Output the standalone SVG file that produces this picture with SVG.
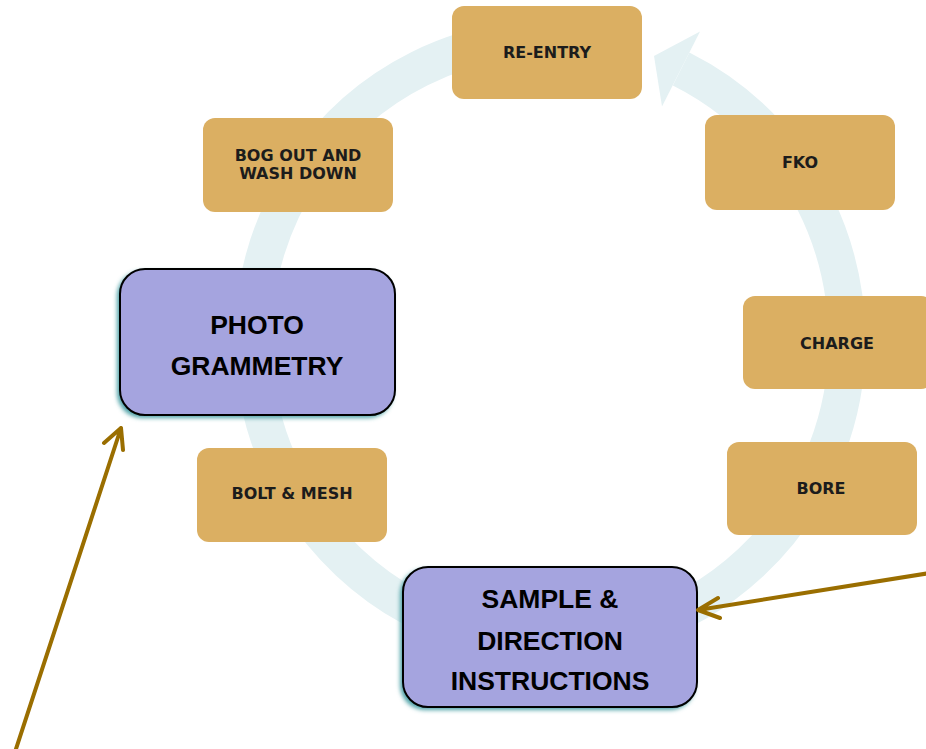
<svg xmlns="http://www.w3.org/2000/svg" width="926" height="749" viewBox="0 0 926 749">
<defs>
<style>
.ring{fill:none;stroke:#E4F1F3;stroke-width:37}
.gold{fill:#DBAF62}
.gt{font-family:"DejaVu Sans",Verdana,sans-serif;font-weight:bold;font-size:16px;fill:#1c1c1c;text-anchor:middle}
.purple{fill:#A5A4DF;stroke:#000;stroke-width:2}
.glow{fill:#4FA3A8;filter:url(#blur)}
.pt{font-family:"Liberation Sans",Arial,sans-serif;font-weight:bold;font-size:26.5px;fill:#000;text-anchor:middle}
.conn{fill:none;stroke:#9A6E00;stroke-width:4;stroke-linecap:round;stroke-linejoin:round}
</style>
<filter id="blur" x="-10%" y="-10%" width="120%" height="120%"><feGaussianBlur stdDeviation="2"/></filter>
</defs>
<g id="cycle-ring">
<path class="ring" d="M681.1,69 A297,302 0 1 1 550,38"/>
<polygon points="654,56 700,31.5 662,106.5" fill="#E4F1F3"/>
</g>
<g id="re-entry">
<rect class="gold" x="452" y="6" width="190" height="93" rx="12"/>
<text class="gt" x="547" y="57.5">RE-ENTRY</text>
</g>
<g id="bog-out">
<rect class="gold" x="203" y="118" width="190" height="94" rx="12"/>
<text class="gt" x="298" y="161">BOG OUT AND</text>
<text class="gt" x="298" y="179">WASH DOWN</text>
</g>
<g id="fko">
<rect class="gold" x="705" y="115" width="190" height="95" rx="12"/>
<text class="gt" x="800" y="168">FKO</text>
</g>
<g id="charge">
<rect class="gold" x="743" y="296" width="190" height="93" rx="12"/>
<text class="gt" x="837" y="348.5">CHARGE</text>
</g>
<g id="bore">
<rect class="gold" x="727" y="442" width="190" height="93" rx="12"/>
<text class="gt" x="821" y="494">BORE</text>
</g>
<g id="bolt-mesh">
<rect class="gold" x="197" y="448" width="190" height="94" rx="12"/>
<text class="gt" x="292" y="499">BOLT &amp; MESH</text>
</g>
<g id="photogrammetry">
<rect class="glow" x="117" y="271" width="276" height="147" rx="25"/>
<rect class="purple" x="120" y="269" width="275" height="146" rx="25"/>
<text class="pt" x="257" y="334">PHOTO</text>
<text class="pt" x="257" y="375">GRAMMETRY</text>
</g>
<g id="sample-direction">
<rect class="glow" x="400" y="569" width="295" height="141" rx="25"/>
<rect class="purple" x="403" y="567" width="294" height="140" rx="25"/>
<text class="pt" x="550" y="608">SAMPLE &amp;</text>
<text class="pt" x="550" y="650">DIRECTION</text>
<text class="pt" x="550" y="690">INSTRUCTIONS</text>
</g>
<g id="connectors">
<path class="conn" d="M15,752 L121,428 M104,443 L121,428 L123,450"/>
<path class="conn" d="M930,573 L698,610 M718,598 L698,610 L720,618"/>
</g>
</svg>
